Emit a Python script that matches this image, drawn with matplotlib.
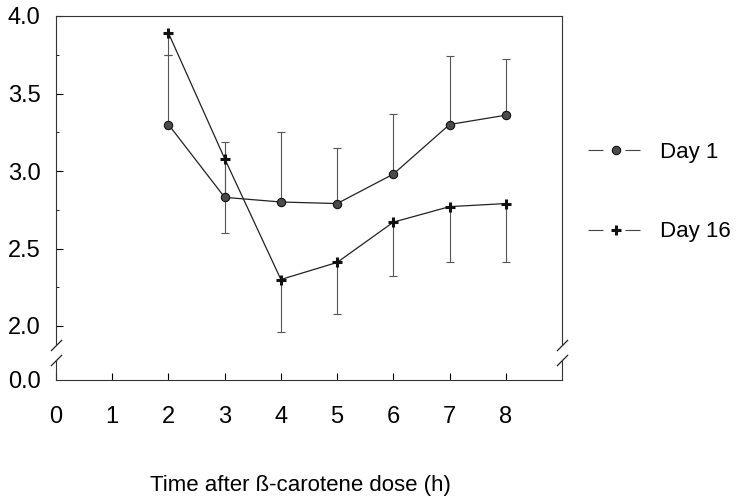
import matplotlib
matplotlib.use("Agg")
import matplotlib.pyplot as plt
from matplotlib.lines import Line2D
import numpy as np

plt.rcParams['font.family'] = ['Liberation Sans', 'DejaVu Sans']
plt.rcParams['lines.scale_dashes'] = False

# data
hours = [2, 3, 4, 5, 6, 7, 8]
day1 = [3.30, 2.83, 2.80, 2.79, 2.98, 3.30, 3.36]
day1_err_up = [0.45, 0.36, 0.45, 0.36, 0.39, 0.44, 0.36]
day16 = [3.89, 3.08, 2.30, 2.41, 2.67, 2.77, 2.79]
day16_err_down = [0.14, 0.48, 0.34, 0.33, 0.35, 0.36, 0.38]

x_ticks = [0, 1, 2, 3, 4, 5, 6, 7, 8]
y_ticks = [2.0, 2.5, 3.0, 3.5, 4.0]
y_minor = [2.25, 2.75, 3.25, 3.75]
series_labels = ['Day 1', 'Day 16']
xlabel = 'Time after ß-carotene dose (h)'

W, H = 744, 503
fig = plt.figure(figsize=(W / 100, H / 100), dpi=100)

# pixel layout of the box
left, right = 56, 562
top, brk_top, brk_bot, bottom = 16, 345, 360, 380
px_per_unit = 155.0

ax = fig.add_axes([left / W, 1 - brk_top / H, (right - left) / W, (brk_top - top) / H])
axb = fig.add_axes([left / W, 1 - bottom / H, (right - left) / W, (bottom - brk_bot) / H])

ax.set_ylim(4.0 - (brk_top - top) / px_per_unit, 4.0)
axb.set_ylim(0, (bottom - brk_bot) / px_per_unit)
for a in (ax, axb):
    a.set_xlim(0, 9)
    for s in a.spines.values():
        s.set_linewidth(0.8)
        s.set_color('#333333')

ax.spines['bottom'].set_visible(False)
axb.spines['top'].set_visible(False)

ax.set_yticks(y_ticks)
ax.set_yticklabels([f'{v:.1f}' for v in y_ticks])
ax.set_yticks(y_minor, minor=True)
ax.tick_params(axis='y', which='major', direction='in', length=5, width=0.8, pad=11, labelsize=17)
ax.tick_params(axis='y', which='minor', direction='in', length=2, width=0.6)
ax.tick_params(axis='x', which='both', bottom=False, labelbottom=False)

axb.set_yticks([0.0])
axb.set_yticklabels(['0.0'])
axb.tick_params(axis='y', direction='in', length=0, pad=11, labelsize=17)
axb.set_xticks(x_ticks)
axb.set_xticklabels([str(v) for v in x_ticks])
axb.tick_params(axis='x', direction='in', length=5, width=0.8, pad=19, labelsize=17)

# break marks
kw = dict(marker=[(-1, -1), (1, 1)], markersize=8, linestyle='none',
          color='#222222', mec='#222222', mew=0.9, clip_on=False)
ax.plot([0, 1], [0, 0], transform=ax.transAxes, **kw)
axb.plot([0, 1], [1, 1], transform=axb.transAxes, **kw)

# error bars
ax.errorbar(hours, day1, yerr=[np.zeros(len(hours)), day1_err_up], fmt='none',
            ecolor='#555555', elinewidth=0.8, capsize=3, capthick=0.8, zorder=2)
ax.errorbar(hours, day16, yerr=[day16_err_down, np.zeros(len(hours))], fmt='none',
            ecolor='#555555', elinewidth=0.8, capsize=3, capthick=0.8, zorder=2)

ax.plot(hours, day1, color='#222222', lw=0.9, marker='o', ms=6,
        mfc='#4a4a4a', mec='#111111', mew=0.8, zorder=3)
ax.plot(hours, day16, color='#222222', lw=0.9, marker='+', ms=7,
        mec='#111111', mew=2.2, zorder=3)

handles = [
    Line2D([], [], color='#444444', lw=0.8, dashes=(10.8, 15.8, 10.8, 100),
           marker='o', ms=6, mfc='#4a4a4a', mec='#111111', mew=0.8),
    Line2D([], [], color='#444444', lw=0.8, dashes=(10.8, 15.8, 10.8, 100),
           marker='+', ms=7, mec='#111111', mew=2.2),
]
fig.legend(handles, series_labels, loc='center left',
           bbox_to_anchor=(588 / W, 1 - 192 / H), frameon=False, fontsize=16,
           handlelength=2.5, handletextpad=0.75, labelspacing=2.65,
           borderpad=0, borderaxespad=0)

fig.text(300 / W, 1 - 485 / H, xlabel, ha='center', va='center', fontsize=16)

fig.savefig('out.png', dpi=100)
